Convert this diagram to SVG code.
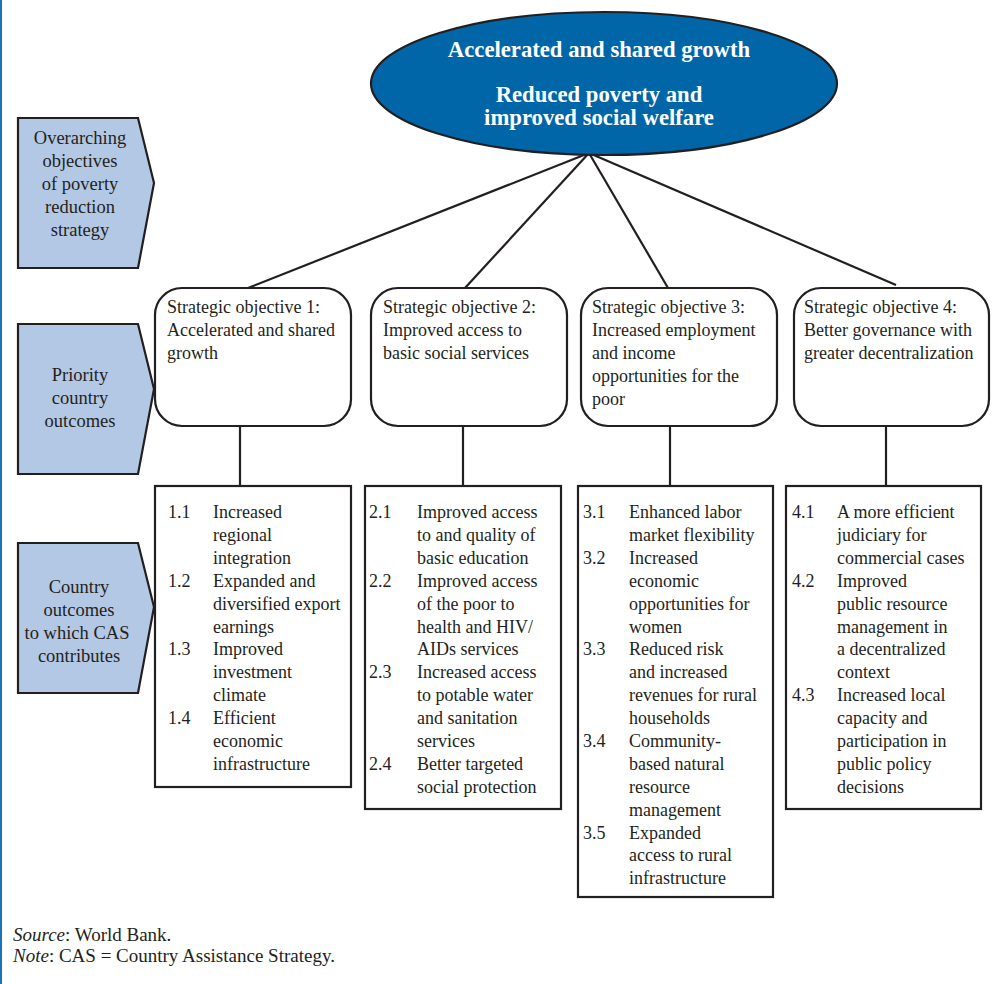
<svg xmlns="http://www.w3.org/2000/svg" width="1000" height="984" viewBox="0 0 1000 984">
<style>
text{font-family:"Liberation Serif","Times New Roman",serif;fill:#231f20;font-size:18px}
.lab{text-anchor:middle;font-size:18.5px}
.goal{fill:#ffffff;font-weight:bold;font-size:22.7px;text-anchor:middle}
.shape{stroke:#231f20;stroke-width:2.2;fill:#ffffff}
.tab{stroke:#231f20;stroke-width:2.2;fill:#b3c8e4}
.conn line{stroke:#231f20;stroke-width:2.2}
.foot{font-size:19px}
</style>
<rect x="0" y="0" width="2" height="984" fill="#1b75bb"/>

<g class="conn">
<line x1="589" y1="153" x2="248" y2="288"/>
<line x1="589" y1="153" x2="465" y2="288"/>
<line x1="589" y1="153" x2="668" y2="288"/>
<line x1="589" y1="153" x2="896" y2="285"/>
<line x1="240" y1="426" x2="240" y2="486"/>
<line x1="463" y1="426" x2="463" y2="486"/>
<line x1="670" y1="426" x2="670" y2="486"/>
<line x1="886" y1="426" x2="886" y2="486"/>
</g>

<g id="goal">
<ellipse cx="604" cy="83.5" rx="233" ry="71.5" fill="#0066a8" stroke="#231f20" stroke-width="2.2"/>
<text class="goal" x="599" y="57">Accelerated and shared growth</text>
<text class="goal" x="599" y="102">Reduced poverty and</text>
<text class="goal" x="599" y="125">improved social welfare</text>
</g>

<g id="tab-overarching">
<path class="tab" d="M18,118 H138 L154,183 L138,268 H18 Z"/>
<text class="lab" x="79"><tspan x="80" y="144">Overarching</tspan><tspan x="80" y="167">objectives</tspan><tspan x="80" y="190">of poverty</tspan><tspan x="80" y="213">reduction</tspan><tspan x="80" y="236">strategy</tspan></text>
</g>
<g id="tab-priority">
<path class="tab" d="M18,324 H138 L154,389 L138,474 H18 Z"/>
<text class="lab" x="79"><tspan x="80" y="381">Priority</tspan><tspan x="80" y="404">country</tspan><tspan x="80" y="427">outcomes</tspan></text>
</g>
<g id="tab-country">
<path class="tab" d="M18,543 H138 L154,607 L138,693 H18 Z"/>
<text class="lab" x="77"><tspan x="79" y="593">Country</tspan><tspan x="79" y="616">outcomes</tspan><tspan x="77" y="639">to which CAS</tspan><tspan x="79" y="662">contributes</tspan></text>
</g>

<g id="so1">
<rect class="shape" x="155" y="288" width="196" height="138" rx="27"/>
<text x="167"><tspan x="167" y="313">Strategic objective 1:</tspan><tspan x="167" y="336">Accelerated and shared</tspan><tspan x="167" y="359">growth</tspan></text>
</g>
<g id="so2">
<rect class="shape" x="371" y="288" width="196" height="138" rx="27"/>
<text x="383"><tspan x="383" y="313">Strategic objective 2:</tspan><tspan x="383" y="336">Improved access to</tspan><tspan x="383" y="359">basic social services</tspan></text>
</g>
<g id="so3">
<rect class="shape" x="581" y="288" width="196" height="138" rx="27"/>
<text x="592"><tspan x="592" y="313">Strategic objective 3:</tspan><tspan x="592" y="336">Increased employment</tspan><tspan x="592" y="359">and income</tspan><tspan x="592" y="382">opportunities for the</tspan><tspan x="592" y="405">poor</tspan></text>
</g>
<g id="so4">
<rect class="shape" x="794" y="288" width="195" height="138" rx="27"/>
<text x="804"><tspan x="804" y="313">Strategic objective 4:</tspan><tspan x="804" y="336">Better governance with</tspan><tspan x="804" y="359">greater decentralization</tspan></text>
</g>

<g id="out1">
<rect class="shape" x="155" y="486" width="196" height="301"/>
<text><tspan x="168" y="518">1.1</tspan><tspan x="168" y="586.7">1.2</tspan><tspan x="168" y="655.4">1.3</tspan><tspan x="168" y="724.1">1.4</tspan></text>
<text x="213"><tspan x="213" y="518">Increased</tspan><tspan x="213" dy="22.9">regional</tspan><tspan x="213" dy="22.9">integration</tspan><tspan x="213" dy="22.9">Expanded and</tspan><tspan x="213" dy="22.9">diversified export</tspan><tspan x="213" dy="22.9">earnings</tspan><tspan x="213" dy="22.9">Improved</tspan><tspan x="213" dy="22.9">investment</tspan><tspan x="213" dy="22.9">climate</tspan><tspan x="213" dy="22.9">Efficient</tspan><tspan x="213" dy="22.9">economic</tspan><tspan x="213" dy="22.9">infrastructure</tspan></text>
</g>
<g id="out2">
<rect class="shape" x="365" y="486" width="196" height="323"/>
<text><tspan x="369" y="518">2.1</tspan><tspan x="369" y="586.7">2.2</tspan><tspan x="369" y="678.3">2.3</tspan><tspan x="369" y="769.9">2.4</tspan></text>
<text x="417"><tspan x="417" y="518">Improved access</tspan><tspan x="417" dy="22.9">to and quality of</tspan><tspan x="417" dy="22.9">basic education</tspan><tspan x="417" dy="22.9">Improved access</tspan><tspan x="417" dy="22.9">of the poor to</tspan><tspan x="417" dy="22.9">health and HIV/</tspan><tspan x="417" dy="22.9">AIDs services</tspan><tspan x="417" dy="22.9">Increased access</tspan><tspan x="417" dy="22.9">to potable water</tspan><tspan x="417" dy="22.9">and sanitation</tspan><tspan x="417" dy="22.9">services</tspan><tspan x="417" dy="22.9">Better targeted</tspan><tspan x="417" dy="22.9">social protection</tspan></text>
</g>
<g id="out3">
<rect class="shape" x="578" y="486" width="195" height="411"/>
<text><tspan x="583" y="518">3.1</tspan><tspan x="583" y="563.8">3.2</tspan><tspan x="583" y="655.4">3.3</tspan><tspan x="583" y="747">3.4</tspan><tspan x="583" y="838.6">3.5</tspan></text>
<text x="629"><tspan x="629" y="518">Enhanced labor</tspan><tspan x="629" dy="22.9">market flexibility</tspan><tspan x="629" dy="22.9">Increased</tspan><tspan x="629" dy="22.9">economic</tspan><tspan x="629" dy="22.9">opportunities for</tspan><tspan x="629" dy="22.9">women</tspan><tspan x="629" dy="22.9">Reduced risk</tspan><tspan x="629" dy="22.9">and increased</tspan><tspan x="629" dy="22.9">revenues for rural</tspan><tspan x="629" dy="22.9">households</tspan><tspan x="629" dy="22.9">Community-</tspan><tspan x="629" dy="22.9">based natural</tspan><tspan x="629" dy="22.9">resource</tspan><tspan x="629" dy="22.9">management</tspan><tspan x="629" dy="22.9">Expanded</tspan><tspan x="629" dy="22.9">access to rural</tspan><tspan x="629" dy="22.9">infrastructure</tspan></text>
</g>
<g id="out4">
<rect class="shape" x="786" y="486" width="195" height="323"/>
<text><tspan x="792" y="518">4.1</tspan><tspan x="792" y="586.7">4.2</tspan><tspan x="792" y="701.2">4.3</tspan></text>
<text x="837"><tspan x="837" y="518">A more efficient</tspan><tspan x="837" dy="22.9">judiciary for</tspan><tspan x="837" dy="22.9">commercial cases</tspan><tspan x="837" dy="22.9">Improved</tspan><tspan x="837" dy="22.9">public resource</tspan><tspan x="837" dy="22.9">management in</tspan><tspan x="837" dy="22.9">a decentralized</tspan><tspan x="837" dy="22.9">context</tspan><tspan x="837" dy="22.9">Increased local</tspan><tspan x="837" dy="22.9">capacity and</tspan><tspan x="837" dy="22.9">participation in</tspan><tspan x="837" dy="22.9">public policy</tspan><tspan x="837" dy="22.9">decisions</tspan></text>
</g>

<g id="footer">
<text class="foot" x="13" y="941"><tspan font-style="italic">Source</tspan>: World Bank.</text>
<text class="foot" x="13" y="962"><tspan font-style="italic">Note</tspan>: CAS = Country Assistance Strategy.</text>
</g>
</svg>
